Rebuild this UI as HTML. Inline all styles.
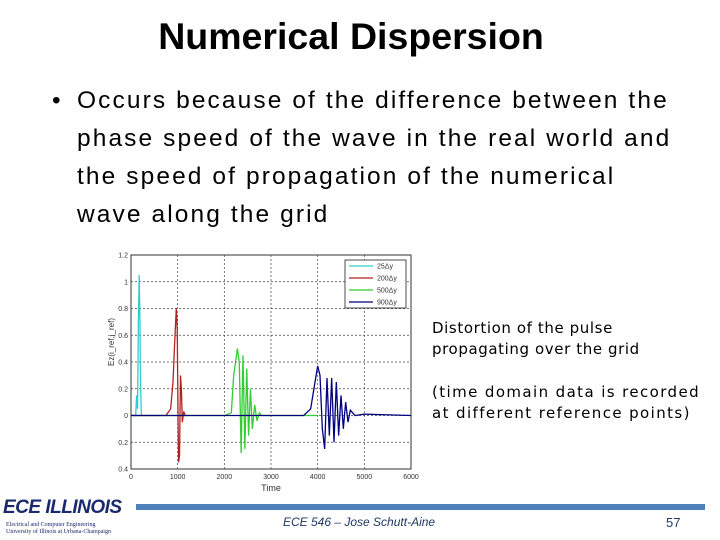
<!DOCTYPE html>
<html><head><meta charset="utf-8"><style>
body{margin:0;width:720px;height:540px;background:#fff;position:relative;overflow:hidden;font-family:"Liberation Sans",sans-serif}
.abs{position:absolute}
</style></head><body>
<div class="abs" style="left:0;width:702px;top:15px;text-align:center;font-size:37.5px;font-weight:bold;color:#000">Numerical Dispersion</div>
<div class="abs" style="left:52px;top:82px;font-size:24.5px;line-height:38px;color:#000;width:680px;white-space:nowrap;letter-spacing:2.1px">
<span style="position:absolute;left:0">•</span>
<div style="padding-left:25px">Occurs because of the difference between the<br>phase speed of the wave in the real world and<br>the speed of propagation of the numerical<br>wave along the grid</div></div>
<div class="abs" style="left:432px;top:318px;font-size:15px;line-height:21px;font-family:'DejaVu Sans',sans-serif;letter-spacing:0.6px">Distortion of the pulse<br>propagating over the grid</div>
<div class="abs" style="left:432px;top:382px;font-size:15px;line-height:21px;font-family:'DejaVu Sans',sans-serif;letter-spacing:1.4px">(time domain data is recorded<br>at different reference points)</div>
<svg class="abs" style="left:0;top:0" width="720" height="540">
<g id="g"></g></svg>
<div class="abs" style="left:136px;top:504px;width:569px;height:6px;background:#4f81bd"></div>
<div class="abs" style="left:3px;top:497px;font-size:19px;font-weight:bold;font-style:italic;color:#1a2a6c;letter-spacing:-0.5px">ECE ILLINOIS</div>
<div class="abs" style="left:6px;top:522px;font-size:6px;line-height:7px;color:#1a2a6c;font-family:'Liberation Serif',serif">Electrical and Computer Engineering<br>University of Illinois at Urbana-Champaign</div>
<div class="abs" style="left:283px;top:515px;font-size:12px;font-style:italic;color:#1f3864">ECE 546 – Jose Schutt-Aine</div>
<div class="abs" style="left:666px;top:515px;font-size:13px;color:#1f3864">57</div>
<script>
const xTicks=[0,1000,2000,3000,4000,5000,6000];
const yTicks=[1.2,1,0.8,0.6,0.4,0.2,0,-0.2,-0.4];
const yTickLabels=["1.2","1","0.8","0.6","0.4","0.2","0","0.2","0.4"];
const seriesNames=["25Δy","200Δy","500Δy","900Δy"];
const seriesColors=["#33cccc","#b22222","#33cc33","#000080"];
const cyanT=[0,100,120,140,160,175,190,200,215,225,240];
const cyanV=[0,0,0.15,0.05,0.75,1.05,0.75,0.35,0.08,0,0];
const redT=[0,750,850,900,930,970,990,1000,1010,1020,1040,1060,1080,1100,1130,1160,1200];
const redV=[0,0,0.05,0.25,0.5,0.8,0.65,0.3,-0.1,-0.35,-0.3,0.3,0.2,-0.05,0.03,0,0];
const greenT=[0,2000,2150,2200,2280,2320,2360,2400,2440,2480,2520,2560,2600,2650,2700,2750,2800,4000];
const greenV=[0,0,0.02,0.3,0.5,0.4,-0.28,0.45,-0.25,0.35,-0.15,0.2,-0.1,0.08,-0.04,0.02,0,0];
const blueT=[0,3700,3850,3920,4000,4050,4100,4150,4200,4250,4300,4350,4400,4450,4500,4550,4600,4650,4700,4800,5000,6000];
const blueV=[0,0,0.05,0.2,0.37,0.3,-0.1,-0.25,0.28,-0.15,0.28,-0.2,0.25,-0.15,0.15,-0.1,0.1,-0.05,0.04,0,0.01,0];
const L=131,R=411,T=255,B=469;
const X=t=>L+(t-0)/6000*(R-L);
const Y=v=>T+(1.2-v)/1.6*(B-T);
const g=document.getElementById('g');const NS="http://www.w3.org/2000/svg";
function mk(tag,a){const e=document.createElementNS(NS,tag);for(const k in a)e.setAttribute(k,a[k]);g.appendChild(e);return e;}
let r=mk('rect',{x:L,y:T,width:R-L,height:B-T,fill:'#fff',stroke:'#000','stroke-width':0.8});


xTicks.forEach(t=>{
 if(t>0&&t<6000){const l=mk('line',{x1:X(t),x2:X(t),y1:T,y2:B,stroke:'#444','stroke-dasharray':'2,2','stroke-width':0.7});
 
 }
 const tx=mk('text',{x:X(t),y:B+10,'font-size':7,'text-anchor':'middle',fill:'#333'});tx.textContent=t;
 
 
});
yTicks.forEach((v,i)=>{
 if(v<1.2&&v>-0.4){const l=mk('line',{x1:L,x2:R,y1:Y(v),y2:Y(v),stroke:'#444','stroke-dasharray':'2,2','stroke-width':0.7});
 
 }
 const tx=mk('text',{x:L-3,y:Y(v)+2.5,'font-size':7,'text-anchor':'end',fill:'#333'});tx.textContent=yTickLabels[i];
 
 
});
const xt=mk('text',{x:(L+R)/2,y:B+22,'font-size':9,'text-anchor':'middle',fill:'#333'});xt.textContent='Time';


const yt=mk('text',{x:0,y:0,'font-size':8,'text-anchor':'middle',fill:'#333',transform:`translate(114,${(T+B)/2-20}) rotate(-90)`});yt.textContent='Ez(i_ref,j_ref)';


const sets=[[cyanT,cyanV],[redT,redV],[greenT,greenV],[blueT,blueV]];
sets.forEach((s,k)=>{
 const p=mk('polyline',{points:s[0].map((t,i)=>X(t)+','+Y(s[1][i])).join(' '),fill:'none',stroke:seriesColors[k],'stroke-width':1.3});
 
 
});
const lg=mk('rect',{x:345,y:260,width:61,height:48,fill:'#fff',stroke:'#000','stroke-width':0.7});


seriesNames.forEach((n,k)=>{
 const y=266+k*12;
 const l=mk('line',{x1:349,x2:373,y1:y,y2:y,stroke:seriesColors[k],'stroke-width':1.2});
 
 
 const tx=mk('text',{x:377,y:y+2.5,'font-size':7,fill:'#333'});tx.textContent=n;
 
 
});
</script>
</body></html>
